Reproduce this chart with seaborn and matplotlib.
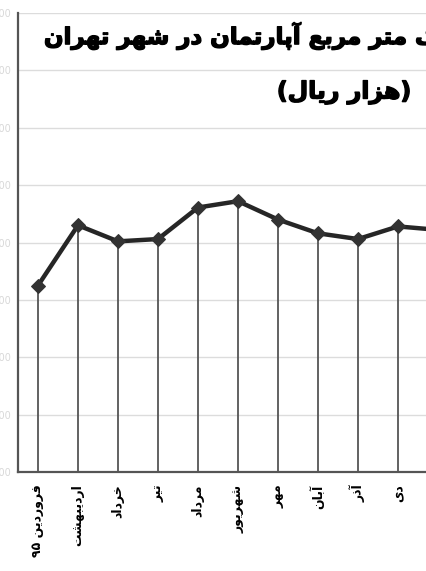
import matplotlib
matplotlib.use("Agg")
import matplotlib.pyplot as plt
import matplotlib.patheffects as pe
import seaborn as sns
import pandas as pd

# Data (thousand rials per square metre)
months = ["فروردین ۹۵", "اردیبهشت", "خرداد", "تیر", "مرداد", "شهریور",
          "مهر", "آبان", "آذر", "دی", "بهمن"]
prices = [43250, 44300, 44020, 44060, 44610, 44720,
          44400, 44160, 44060, 44280, 44220]
y_ticks = [40000, 41000, 42000, 43000, 44000, 45000, 46000, 47000, 48000]

title_1 = "متوسط قیمت یک متر مربع آپارتمان در شهر تهران"
title_2 = "(هزار ریال)"

# Minimal Persian shaping: (isolated, final, initial, medial); right-joiners have 2 forms
FORMS = {
    "ا": (0xFE8D, 0xFE8E), "آ": (0xFE81, 0xFE82),
    "د": (0xFEA9, 0xFEAA), "ذ": (0xFEAB, 0xFEAC),
    "ر": (0xFEAD, 0xFEAE), "ز": (0xFEAF, 0xFEB0),
    "و": (0xFEED, 0xFEEE),
    "ب": (0xFE8F, 0xFE90, 0xFE91, 0xFE92), "پ": (0xFB56, 0xFB57, 0xFB58, 0xFB59),
    "ت": (0xFE95, 0xFE96, 0xFE97, 0xFE98), "خ": (0xFEA5, 0xFEA6, 0xFEA7, 0xFEA8),
    "س": (0xFEB1, 0xFEB2, 0xFEB3, 0xFEB4), "ش": (0xFEB5, 0xFEB6, 0xFEB7, 0xFEB8),
    "ط": (0xFEC1, 0xFEC2, 0xFEC3, 0xFEC4), "ع": (0xFEC9, 0xFECA, 0xFECB, 0xFECC),
    "ف": (0xFED1, 0xFED2, 0xFED3, 0xFED4), "ق": (0xFED5, 0xFED6, 0xFED7, 0xFED8),
    "ک": (0xFB8E, 0xFB8F, 0xFB90, 0xFB91), "ل": (0xFEDD, 0xFEDE, 0xFEDF, 0xFEE0),
    "م": (0xFEE1, 0xFEE2, 0xFEE3, 0xFEE4), "ن": (0xFEE5, 0xFEE6, 0xFEE7, 0xFEE8),
    "ه": (0xFEE9, 0xFEEA, 0xFEEB, 0xFEEC), "ی": (0xFBFC, 0xFBFD, 0xFBFE, 0xFBFF),
}
MIRROR = {"(": ")", ")": "("}


def shape(text):
    out = []
    for i, ch in enumerate(text):
        if ch not in FORMS:
            out.append(ch)
            continue
        prev = text[i - 1] if i > 0 else ""
        nxt = text[i + 1] if i + 1 < len(text) else ""
        join_prev = prev in FORMS and len(FORMS[prev]) == 4
        join_next = len(FORMS[ch]) == 4 and nxt in FORMS
        f = FORMS[ch]
        if join_prev and join_next:
            out.append(chr(f[3]))
        elif join_prev:
            out.append(chr(f[1]))
        elif join_next:
            out.append(chr(f[2]))
        else:
            out.append(chr(f[0]))
    # visual order: reverse, keeping digit runs left-to-right
    tokens, cur, is_digit = [], "", None
    for ch in out:
        d = ch.isdigit()
        if is_digit is None or d == is_digit:
            cur += ch
        else:
            tokens.append((cur, is_digit))
            cur = ch
        is_digit = d
    if cur:
        tokens.append((cur, is_digit))
    vis = ""
    for tok, d in reversed(tokens):
        vis += tok if d else "".join(MIRROR.get(c, c) for c in reversed(tok))
    return vis


df = pd.DataFrame({"idx": range(len(prices)), "price": prices})

sns.set_style("white")
plt.rcParams["font.family"] = ["DejaVu Sans"]

fig = plt.figure(figsize=(4.26, 5.71), dpi=100)
W, H = 426, 571
ax = fig.add_axes([18 / W, 99 / H, 408 / W, 459 / H])

ax.set_yticks(y_ticks)
ax.set_yticklabels([f"{v:,}" for v in y_ticks], fontsize=7, color="#d8d8d8")
ax.yaxis.grid(True, color="#dcdcdc", linewidth=1.0)
ax.set_axisbelow(True)

# drop lines to the category axis
ax.vlines(df["idx"], y_ticks[0], df["price"], color="#555555", linewidth=1.3, zorder=2)

sns.lineplot(data=df, x="idx", y="price", ax=ax, color="#262626", linewidth=3.2,
             marker="D", markersize=7.5, markerfacecolor="#333333",
             markeredgecolor="#333333", zorder=3)

ax.set_xticks(range(len(months)))
ax.set_xticklabels([shape(m) for m in months], rotation=90, fontsize=9,
                   fontweight="bold", va="top", color="black")
ax.set_xticks([i - 0.5 for i in range(len(months) + 1)], minor=True)
ax.tick_params(axis="x", which="major", length=0, pad=9)
ax.tick_params(axis="x", which="minor", length=4, width=1.2, color="#555555", direction="out")
ax.tick_params(axis="y", length=3, width=1.2, color="#555555", direction="out", pad=2)
ax.set_xlabel("")
ax.set_ylabel("")

# set the view after the ticks, which would otherwise widen it
ax.set_ylim(y_ticks[0], y_ticks[-1])
ax.set_xlim(-0.5, 9.7)

for side in ["top", "right"]:
    ax.spines[side].set_visible(False)
for side in ["left", "bottom"]:
    ax.spines[side].set_color("#555555")
    ax.spines[side].set_linewidth(1.6)

thick = [pe.withStroke(linewidth=1.0, foreground="black")]
fig.text(44 / W, 1 - 36 / H, shape(title_1), fontsize=16.5, fontweight="bold",
         color="black", ha="left", va="center", path_effects=thick)
fig.text(344 / W, 1 - 92 / H, shape(title_2), fontsize=17, fontweight="bold",
         color="black", ha="center", va="center", path_effects=thick)

fig.savefig("out.png", dpi=100)
